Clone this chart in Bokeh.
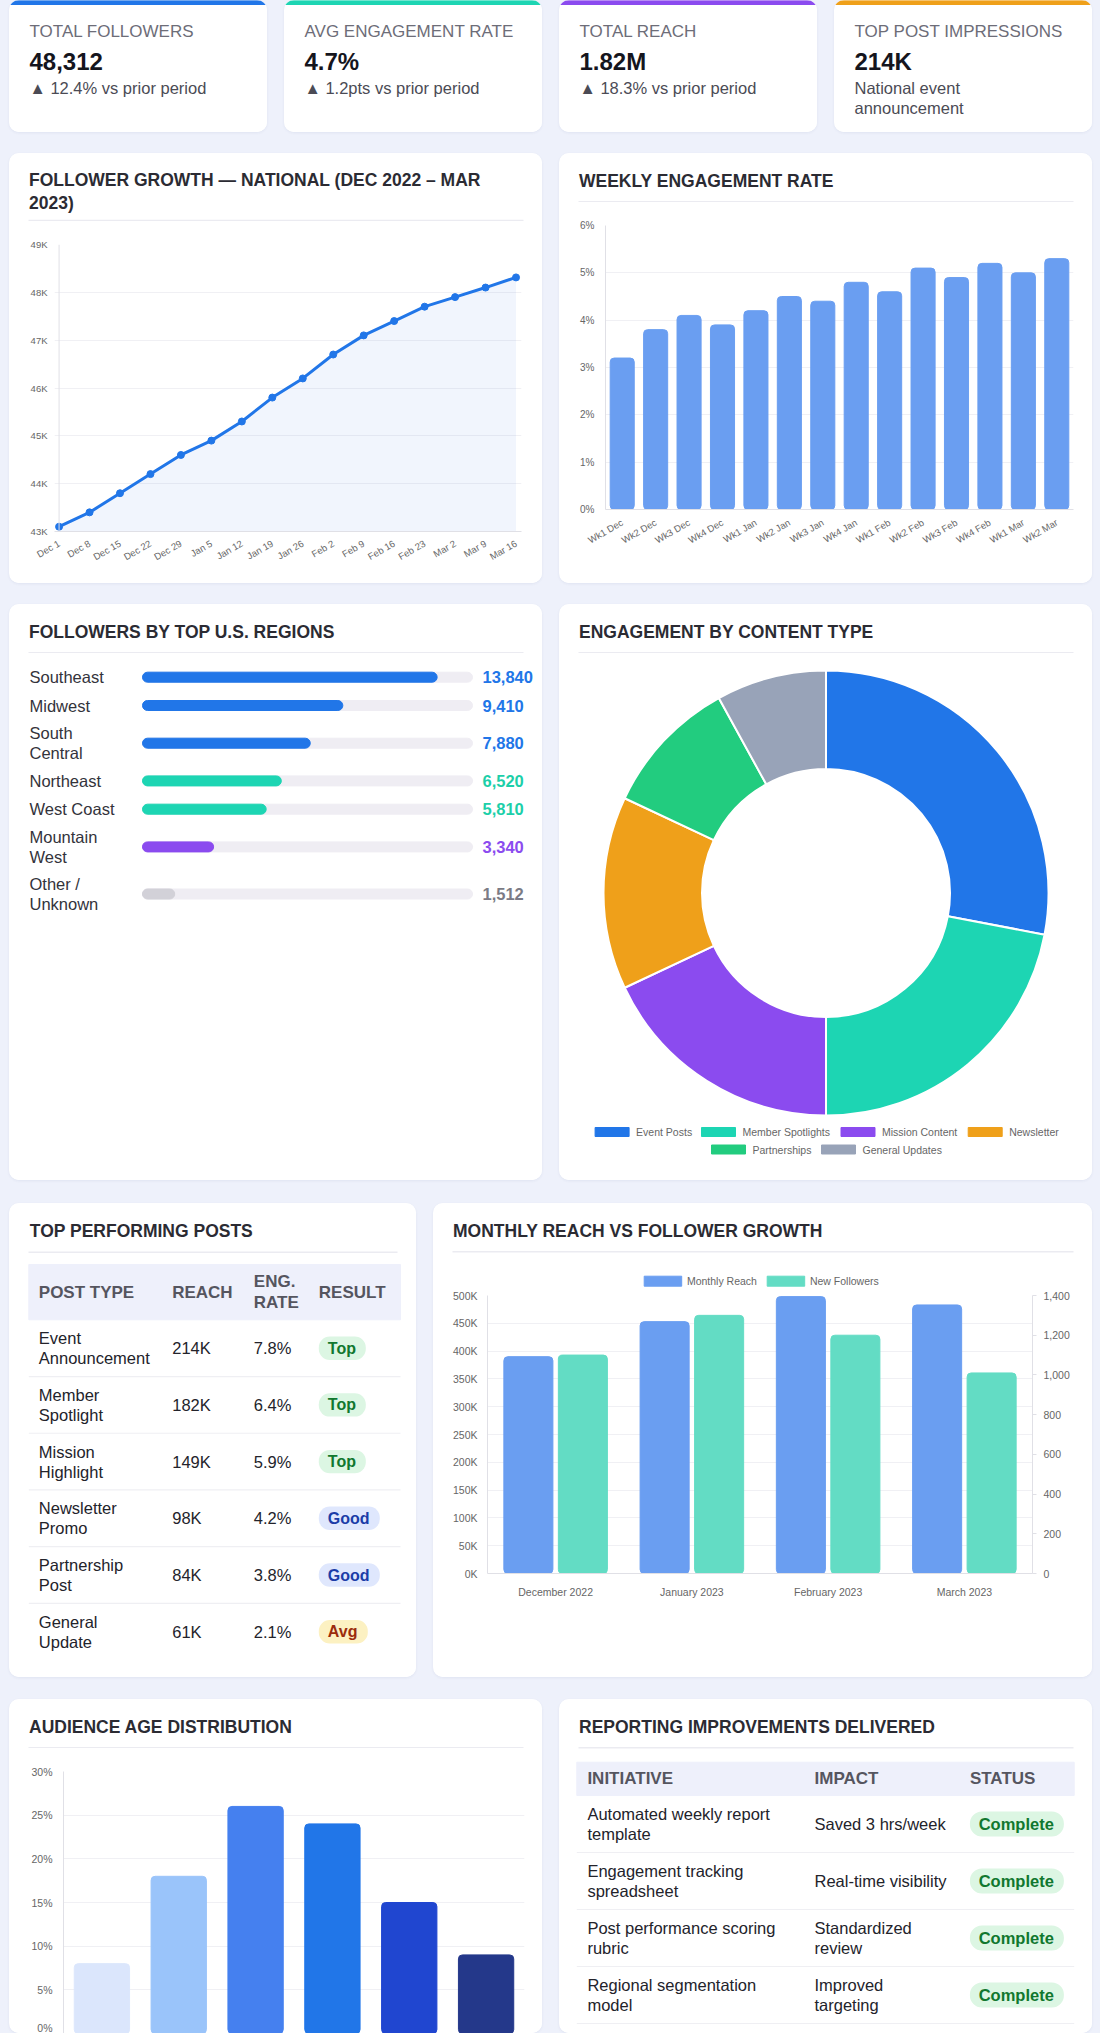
import numpy as np
from bokeh.plotting import figure
from bokeh.layouts import row, column
from bokeh.models import Range1d, FactorRange, FixedTicker, LinearAxis, Span, ColumnDataSource
from bokeh.transform import dodge
from bokeh.core.properties import value
from bokeh.embed import file_html
from bokeh.resources import INLINE

# ---------------- data ----------------
kpi_labels = ["TOTAL FOLLOWERS", "AVG ENGAGEMENT RATE", "TOTAL REACH", "TOP POST IMPRESSIONS"]
kpi_values = ["48,312", "4.7%", "1.82M", "214K"]
kpi_notes = ["▲ 12.4% vs prior period", "▲ 1.2pts vs prior period",
             "▲ 18.3% vs prior period", "National event\nannouncement"]

growth_weeks = ["Dec 1", "Dec 8", "Dec 15", "Dec 22", "Dec 29", "Jan 5", "Jan 12", "Jan 19",
                "Jan 26", "Feb 2", "Feb 9", "Feb 16", "Feb 23", "Mar 2", "Mar 9", "Mar 16"]
growth_followers = [43100, 43400, 43800, 44200, 44600, 44900, 45300, 45800,
                    46200, 46700, 47100, 47400, 47700, 47900, 48100, 48312]

eng_weeks = ["Wk1 Dec", "Wk2 Dec", "Wk3 Dec", "Wk4 Dec", "Wk1 Jan", "Wk2 Jan", "Wk3 Jan",
             "Wk4 Jan", "Wk1 Feb", "Wk2 Feb", "Wk3 Feb", "Wk4 Feb", "Wk1 Mar", "Wk2 Mar"]
eng_rates = [3.2, 3.8, 4.1, 3.9, 4.2, 4.5, 4.4, 4.8, 4.6, 5.1, 4.9, 5.2, 5.0, 5.3]

regions = ["Southeast", "Midwest", "South\nCentral", "Northeast", "West Coast",
           "Mountain\nWest", "Other /\nUnknown"]
region_followers = [13840, 9410, 7880, 6520, 5810, 3340, 1512]

content_types = ["Event Posts", "Member Spotlights", "Mission Content", "Newsletter",
                 "Partnerships", "General Updates"]
content_share = [28, 22, 18, 14, 10, 8]

post_types = ["Event\nAnnouncement", "Member\nSpotlight", "Mission\nHighlight",
              "Newsletter\nPromo", "Partnership\nPost", "General\nUpdate"]
post_reach_k = [214, 182, 149, 98, 84, 61]
post_eng_rate = [7.8, 6.4, 5.9, 4.2, 3.8, 2.1]
post_result = ["Top", "Top", "Top", "Good", "Good", "Avg"]

months = ["December 2022", "January 2023", "February 2023", "March 2023"]
monthly_reach = [390000, 453000, 498000, 483000]
new_followers = [1100, 1300, 1200, 1010]

age_groups = ["18–24", "25–34", "35–44", "45–54", "55–64", "65+"]
age_share = [8, 18, 26, 24, 15, 9]

initiatives = ["Automated weekly report\ntemplate", "Engagement tracking\nspreadsheet",
               "Post performance scoring\nrubric", "Regional segmentation\nmodel"]
impacts = ["Saved 3 hrs/week", "Real-time visibility", "Standardized\nreview", "Improved\ntargeting"]
statuses = ["Complete", "Complete", "Complete", "Complete"]

# ---------------- styling ----------------
FONT = "Liberation Sans"
BG = "#eef1fb"
TITLE_C = "#2b2b33"
RULE_C = "#ebebf1"
TICK_C = "#666666"
GRID_C = "#f0f0f4"
AXIS_C = "#e0e0e6"
TEXT_C = "#23232b"
BLUE = "#2176e8"
TEAL = "#1dd5b3"
PURPLE = "#8b4bef"
ORANGE = "#efa01a"
GREEN = "#22cc7f"
SLATE = "#98a3b8"
BAR_BLUE = "#6a9ef1"
BAR_TEAL = "#63dcc4"
CARD_STYLE = {"border-radius": "10px", "overflow": "hidden",
              "box-shadow": "0 1px 3px rgba(40,50,110,0.07)", "background-color": "white"}

kpi_accents = [BLUE, TEAL, PURPLE, ORANGE]
region_colors = [BLUE, BLUE, BLUE, TEAL, TEAL, PURPLE, "#d2d1d8"]
region_value_colors = [BLUE, BLUE, BLUE, "#1ccfa9", "#1ccfa9", PURPLE, "#7b7b85"]
content_colors = [BLUE, TEAL, PURPLE, ORANGE, GREEN, SLATE]
age_colors = ["#dbe6fc", "#9ac4fa", "#4580ef", "#2176e8", "#2046d0", "#24388a"]
badge_style = {"Top": ("#dcf6e3", "#11782f", 47), "Good": ("#dfe7fd", "#1b3da8", 61),
               "Avg": ("#fcf1c2", "#9b2c0c", 49), "Complete": ("#dcf6e3", "#11782f", 94)}


def pixel_fig(w, h, flip=True):
    return figure(width=w, height=h, x_range=Range1d(0, w),
                  y_range=Range1d(h, 0) if flip else Range1d(0, h),
                  x_axis_type=None, y_axis_type=None, min_border=0,
                  toolbar_location=None, output_backend="svg", frame_align=False,
                  outline_line_color=None, background_fill_color="white",
                  border_fill_color="white")


def put_text(p, x, y, text, size, color, bold=False, align="left", baseline="middle", lh=1.13):
    p.text(x=[x], y=[y], text=[text], text_font=value(FONT), text_font_size=f"{size}px",
           text_color=color, text_font_style="bold" if bold else "normal",
           text_align=align, text_baseline=baseline, text_line_height=lh)


def add_title(p, w, title, title_y=27.7, rule_y=48.3, x=19.5):
    put_text(p, x, title_y, title, 17.5, TITLE_C, bold=True, lh=1.14)
    p.segment(x0=[19], y0=[rule_y], x1=[w - 19], y1=[rule_y], line_color=RULE_C, line_width=1.5)


def header(w, title, h=49, title_y=27.7, rule_y=48.3):
    p = pixel_fig(w, h)
    add_title(p, w, title, title_y, rule_y)
    return p


def style_axis(ax):
    ax.axis_line_color = AXIS_C
    ax.major_tick_line_color = None
    ax.minor_tick_line_color = None
    ax.major_tick_out = 0
    ax.major_tick_in = 0
    ax.major_label_text_font = FONT
    ax.major_label_text_color = TICK_C


def chart_fig(w, h, left, right, top, bottom, **kw):
    p = figure(width=w, height=h, min_border_left=left, min_border_right=right,
               min_border_top=top, min_border_bottom=bottom, toolbar_location=None,
               output_backend="svg", outline_line_color=None, frame_align=False,
               background_fill_color="white", border_fill_color="white", **kw)
    for ax in p.axis:
        style_axis(ax)
    p.xgrid.grid_line_color = None
    p.ygrid.grid_line_color = GRID_C
    return p


def card(*parts):
    return column(list(parts), spacing=0, styles=dict(CARD_STYLE))


def pill(p, x, y, text, h=23.4, size=16, pad=9):
    bg, fg, w = badge_style[text]
    p.quad(left=[x], right=[x + w], top=[y - h / 2], bottom=[y + h / 2],
           fill_color=bg, line_color=None, border_radius=int(h // 2))
    put_text(p, x + pad, y, text, size, fg, bold=True)


# ---------------- KPI cards ----------------
kpi_cards = []
for lbl, val, note, accent in zip(kpi_labels, kpi_values, kpi_notes, kpi_accents):
    p = pixel_fig(258, 132)
    p.quad(left=[0], right=[258], top=[0], bottom=[4], color=accent)
    put_text(p, 20, 30.5, lbl, 17, "#6d6d78")
    put_text(p, 20, 61, val, 24, "#15151d", bold=True)
    for i, line in enumerate(note.split("\n")):
        put_text(p, 20, 87.5 + 19.5 * i, line, 16.5, "#4b4b55")
    p.styles = dict(CARD_STYLE)
    kpi_cards.append(p)

# ---------------- follower growth (line) ----------------
gh = header(533, "FOLLOWER GROWTH — NATIONAL (DEC 2022 – MAR\n2023)", h=68, title_y=37.7, rule_y=67)
gx = list(range(len(growth_weeks)))
gp = chart_fig(533, 362, 45, 21, 23, 52,
               x_range=Range1d(-0.15, len(gx) - 1 + 0.18), y_range=Range1d(43000, 49000))
gp.varea(x=gx, y1=43000, y2=growth_followers, fill_color="#3b6fe8", fill_alpha=0.07)
gp.line(gx, growth_followers, line_color=BLUE, line_width=3)
gp.scatter(gx, growth_followers, size=7, color=BLUE)
g_ticks = list(range(43000, 49001, 1000))
gp.yaxis.ticker = FixedTicker(ticks=g_ticks)
gp.yaxis.major_label_overrides = {t: f"{t // 1000}K" for t in g_ticks}
gp.yaxis.major_label_text_font_size = "9.5px"
gp.yaxis.major_label_standoff = 7
gp.yaxis.axis_line_color = None
gp.ygrid.ticker = FixedTicker(ticks=g_ticks)
gp.add_layout(Span(location=0, dimension="height", line_color=AXIS_C, line_width=1))
gp.xaxis.ticker = FixedTicker(ticks=gx)
gp.xaxis.major_label_overrides = {i: w for i, w in zip(gx, growth_weeks)}
gp.xaxis.major_label_orientation = np.pi / 6
gp.xaxis.major_label_text_font_size = "9.5px"
gp.xaxis.major_label_standoff = 11

# ---------------- weekly engagement (bars) ----------------
wh = header(533, "WEEKLY ENGAGEMENT RATE")
wp = chart_fig(533, 381, 46, 19, 23, 74,
               x_range=FactorRange(*eng_weeks), y_range=Range1d(0, 6))
wp.vbar(x=eng_weeks, top=eng_rates, width=0.72, color=BAR_BLUE, border_radius=4)
w_ticks = list(range(0, 7))
wp.yaxis.ticker = FixedTicker(ticks=w_ticks)
wp.ygrid.ticker = FixedTicker(ticks=w_ticks)
wp.yaxis.major_label_overrides = {t: f"{t}%" for t in w_ticks}
wp.yaxis.major_label_text_font_size = "10px"
wp.yaxis.major_label_standoff = 11
wp.xaxis.major_label_orientation = np.pi / 6
wp.xaxis.major_label_text_font_size = "9.5px"
wp.xaxis.major_label_standoff = 12

# ---------------- regions (progress bars) ----------------
rh = header(533, "FOLLOWERS BY TOP U.S. REGIONS")
RW, RH = 533, 527
track_px = (133, 463)
region_scale_max = 15500
upp = region_scale_max / (track_px[1] - track_px[0])
rx0 = -track_px[0] * upp
rp = figure(width=RW, height=RH, x_range=Range1d(rx0, rx0 + RW * upp), y_range=Range1d(RH, 0),
            x_axis_type=None, y_axis_type=None, min_border=0, toolbar_location=None,
            output_backend="svg", outline_line_color=None, frame_align=False,
            background_fill_color="white", border_fill_color="white")
n_lines = [r.count("\n") + 1 for r in regions]
row_hts = [18.8 * n + 9.5 for n in n_lines]
r_centers = []
c = 23.7
for i, h in enumerate(row_hts):
    if i:
        c += (row_hts[i - 1] + h) / 2
    r_centers.append(c)
rp.hbar(y=r_centers, left=0, right=region_scale_max, height=10, color="#efedf3", border_radius=5)
rp.hbar(y=r_centers, left=0, right=region_followers, height=10, color=region_colors, border_radius=5)
for name, v, yc, vc in zip(regions, region_followers, r_centers, region_value_colors):
    put_text(rp, rx0 + 20 * upp, yc, name, 16.5, "#33333b", lh=1.14)
    put_text(rp, rx0 + 473 * upp, yc, f"{v:,}", 16.5, vc, bold=True)

# ---------------- content type (donut) ----------------
dh = header(533, "ENGAGEMENT BY CONTENT TYPE")
dp = pixel_fig(533, 527, flip=False)
share = np.array(content_share, dtype=float)
frac = share / share.sum() * 2 * np.pi
ends = np.cumsum(frac)
starts = ends - frac
dp.annular_wedge(x=266.5, y=287.5, inner_radius=124, outer_radius=222.5,
                 start_angle=np.pi / 2 - ends, end_angle=np.pi / 2 - starts,
                 fill_color=content_colors, line_color="white", line_width=2)
legend_slots = [(35.6, 48.5), (142, 48.5), (281.5, 48.5), (408.7, 48.5), (152, 31), (262, 31)]
for (sx, sy), name, col in zip(legend_slots, content_types, content_colors):
    dp.quad(left=[sx], right=[sx + 34], bottom=[sy - 4.5], top=[sy + 4.5], color=col)
    put_text(dp, sx + 41, sy, name, 10.5, TICK_C)

# ---------------- top posts table ----------------
tp = pixel_fig(407, 474)
add_title(tp, 407, "TOP PERFORMING POSTS", x=20.3, rule_y=48.7)
tp.quad(left=[19.3], right=[391], top=[61], bottom=[116.3], color="#eef0fb")
col_x = [29.3, 162.7, 244.3, 309.3]
for x, hd in zip(col_x, ["POST TYPE", "REACH", "ENG.\nRATE", "RESULT"]):
    put_text(tp, x, 88.5, hd, 17, "#55555f", bold=True, lh=1.12)
row_h = 56.7
t_centers = [144.7 + i * row_h for i in range(len(post_types))]
for i, yc in enumerate(t_centers):
    put_text(tp, col_x[0], yc, post_types[i], 16.5, TEXT_C, lh=1.12)
    put_text(tp, col_x[1], yc, f"{post_reach_k[i]}K", 16.5, TEXT_C)
    put_text(tp, col_x[2], yc, f"{post_eng_rate[i]}%", 16.5, TEXT_C)
    pill(tp, col_x[3], yc, post_result[i])
sep_y = [yc + row_h / 2 for yc in t_centers[:-1]]
tp.segment(x0=[19.3] * len(sep_y), y0=sep_y, x1=[391] * len(sep_y), y1=sep_y,
           line_color="#efeff3", line_width=1.2)
tp.styles = dict(CARD_STYLE)

# ---------------- monthly reach vs followers ----------------
mh = header(659, "MONTHLY REACH VS FOLLOWER GROWTH", h=86)
for sx, name, col in [(210.7, "Monthly Reach", BAR_BLUE), (333.7, "New Followers", BAR_TEAL)]:
    mh.quad(left=[sx], right=[sx + 37.5], top=[72.7], bottom=[82.7], color=col)
    put_text(mh, sx + 42.7, 77.7, name, 10.5, TICK_C)
mp = chart_fig(659, 388, 54, 60, 6, 104,
               x_range=FactorRange(*months), y_range=Range1d(0, 500000))
msrc = ColumnDataSource(dict(month=months, reach=monthly_reach, followers=new_followers))
mp.extra_y_ranges = {"followers": Range1d(0, 1400)}
mp.vbar(x=dodge("month", -0.2, range=mp.x_range), top="reach", width=0.36,
        source=msrc, color=BAR_BLUE, border_radius=4)
mp.vbar(x=dodge("month", 0.2, range=mp.x_range), top="followers", width=0.36,
        source=msrc, color=BAR_TEAL, y_range_name="followers", border_radius=4)
m_ticks = list(range(0, 500001, 50000))
mp.yaxis.ticker = FixedTicker(ticks=m_ticks)
mp.ygrid.ticker = FixedTicker(ticks=m_ticks)
mp.yaxis.major_label_overrides = {t: f"{t // 1000}K" for t in m_ticks}
mp.yaxis.major_label_text_font_size = "10.5px"
mp.yaxis.major_label_standoff = 10
f_ticks = list(range(0, 1401, 200))
fax = LinearAxis(y_range_name="followers", ticker=FixedTicker(ticks=f_ticks),
                 major_label_overrides={t: f"{t:,}" for t in f_ticks},
                 axis_line_color=AXIS_C, major_tick_line_color=AXIS_C,
                 major_tick_out=4, major_tick_in=0, minor_tick_line_color=None,
                 minor_tick_out=0, minor_tick_in=0,
                 major_label_text_font=FONT, major_label_text_color=TICK_C,
                 major_label_text_font_size="10.5px", major_label_standoff=7)
mp.add_layout(fax, "right")
mp.xaxis.major_label_text_font_size = "10.5px"
mp.xaxis.major_label_standoff = 12

# ---------------- audience age ----------------
ah = header(533, "AUDIENCE AGE DISTRIBUTION")
ap = figure(width=533, height=285, x_range=FactorRange(*age_groups), y_range=Range1d(0, 30),
            x_axis_location=None, min_border_left=54, min_border_right=18,
            min_border_top=23, min_border_bottom=0, toolbar_location=None,
            output_backend="svg", outline_line_color=None, frame_align=False,
            background_fill_color="white", border_fill_color="white")
ap.vbar(x=age_groups, top=age_share, width=0.72, color=age_colors, border_radius=4)
a_ticks = list(range(0, 31, 5))
ap.yaxis.ticker = FixedTicker(ticks=a_ticks)
ap.ygrid.ticker = FixedTicker(ticks=a_ticks)
ap.ygrid.grid_line_color = GRID_C
ap.xgrid.grid_line_color = None
ap.yaxis.major_label_overrides = {t: f"{t}%" for t in a_ticks}
for ax in ap.yaxis:
    style_axis(ax)
ap.yaxis.major_label_text_font_size = "10.5px"
ap.yaxis.major_label_standoff = 11

# ---------------- reporting improvements table ----------------
ip = pixel_fig(533, 334)
add_title(ip, 533, "REPORTING IMPROVEMENTS DELIVERED")
ip.quad(left=[17.3], right=[514.7], top=[62.7], bottom=[96], color="#eef0fb")
icol_x = [27.9, 255, 410.4]
for x, hd in zip(icol_x, ["INITIATIVE", "IMPACT", "STATUS"]):
    put_text(ip, x, 79.3, hd, 17, "#55555f", bold=True)
irow_h = 57
i_centers = [96 + irow_h / 2 + i * irow_h for i in range(len(initiatives))]
for i, yc in enumerate(i_centers):
    put_text(ip, icol_x[0], yc, initiatives[i], 16.5, TEXT_C, lh=1.12)
    put_text(ip, icol_x[1], yc, impacts[i], 16.5, TEXT_C, lh=1.12)
    pill(ip, icol_x[2], yc, statuses[i], h=25, size=16.5, pad=8.8)
isep = [yc + irow_h / 2 for yc in i_centers]
ip.segment(x0=[17.3] * len(isep), y0=isep, x1=[514.7] * len(isep), y1=isep,
           line_color="#efeff3", line_width=1.2)
ip.styles = dict(CARD_STYLE)

# ---------------- page layout ----------------
r1 = row(kpi_cards, spacing=17, margin=(0, 0, 0, 9))
r2 = row([card(gh, gp), card(wh, wp)], spacing=17, margin=(21, 0, 0, 9))
r3 = row([card(rh, rp), card(dh, dp)], spacing=17, margin=(21, 0, 0, 9))
r4 = row([tp, card(mh, mp)], spacing=17, margin=(23, 0, 0, 9))
r5 = row([card(ah, ap), ip], spacing=17, margin=(22, 0, 0, 9))
page = column([r1, r2, r3, r4, r5], spacing=0, width=1100, height=2033,
              styles={"background-color": BG})

open("out.html", "w").write(file_html(page, INLINE))
